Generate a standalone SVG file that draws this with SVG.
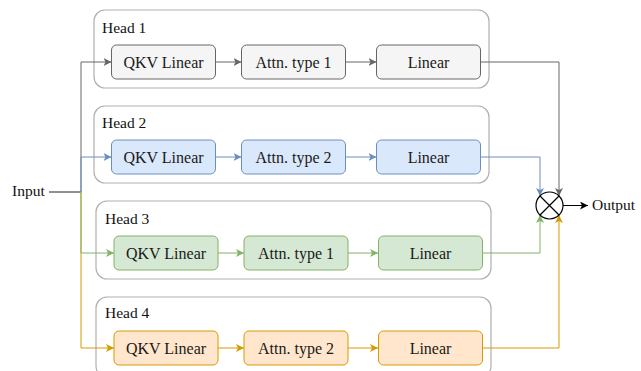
<svg xmlns="http://www.w3.org/2000/svg" width="641" height="371" viewBox="0 0 641 371">
  <style>
    .lbl { font-family: "Liberation Serif", "Times New Roman", serif; font-size: 15.5px; fill: #111; }
    .box-t { font-family: "Liberation Serif", "Times New Roman", serif; font-size: 16px; fill: #1a1a1a; text-anchor: middle; }
    .frame { fill: #ffffff; stroke: #b0b0b0; stroke-width: 1.2; }
    .gray { fill: #f5f5f5; stroke: #666666; }
    .blue { fill: #dae8fc; stroke: #6c8ebf; }
    .green { fill: #d5e8d4; stroke: #82b366; }
    .orange { fill: #ffe6cc; stroke: #d79b00; }
    .e { fill: none; stroke-width: 1; }
    .eg { stroke: #666666; marker-end: url(#ah-gray); }
    .eb { stroke: #6c8ebf; marker-end: url(#ah-blue); }
    .egr { stroke: #82b366; marker-end: url(#ah-green); }
    .eo { stroke: #d79b00; marker-end: url(#ah-orange); }
  </style>
  <defs>
    <marker id="ah-gray" markerUnits="userSpaceOnUse" markerWidth="9" markerHeight="8" refX="8" refY="4" orient="auto">
      <path d="M0,0 L8,4 L0,8 L2,4 Z" fill="#666666"/>
    </marker>
    <marker id="ah-blue" markerUnits="userSpaceOnUse" markerWidth="9" markerHeight="8" refX="8" refY="4" orient="auto">
      <path d="M0,0 L8,4 L0,8 L2,4 Z" fill="#6c8ebf"/>
    </marker>
    <marker id="ah-green" markerUnits="userSpaceOnUse" markerWidth="9" markerHeight="8" refX="8" refY="4" orient="auto">
      <path d="M0,0 L8,4 L0,8 L2,4 Z" fill="#82b366"/>
    </marker>
    <marker id="ah-orange" markerUnits="userSpaceOnUse" markerWidth="9" markerHeight="8" refX="8" refY="4" orient="auto">
      <path d="M0,0 L8,4 L0,8 L2,4 Z" fill="#d79b00"/>
    </marker>
    <marker id="ah-black" markerUnits="userSpaceOnUse" markerWidth="9" markerHeight="8" refX="8" refY="4" orient="auto">
      <path d="M0,0 L8,4 L0,8 L2,4 Z" fill="#000000"/>
    </marker>
  </defs>

  <!-- head frames -->
  <g id="head1">
    <rect class="frame" x="94" y="10" width="395" height="78" rx="11"/>
    <text class="lbl" x="102" y="33">Head 1</text>
  </g>
  <g id="head2">
    <rect class="frame" x="94" y="106" width="395" height="77" rx="11"/>
    <text class="lbl" x="102" y="128">Head 2</text>
  </g>
  <g id="head3">
    <rect class="frame" x="96" y="201" width="395" height="78" rx="11"/>
    <text class="lbl" x="105" y="224">Head 3</text>
  </g>
  <g id="head4">
    <rect class="frame" x="96" y="297" width="395" height="80" rx="11"/>
    <text class="lbl" x="105" y="318">Head 4</text>
  </g>

  <!-- connectors -->
  <g id="connectors">
    <line x1="49" y1="192" x2="81" y2="192" stroke="#222222" stroke-width="1"/>
    <!-- input fan-out -->
    <path class="e eg" d="M81,192 L81,62 L111.5,62"/>
    <path class="e eb" d="M81,192 L81,157 L111.5,157"/>
    <path class="e eo" d="M81,192 L81,348 L114,348"/>
    <path class="e egr" d="M81,192 L81,253 L114,253"/>
    <!-- inside heads -->
    <path class="e eg" d="M215.5,62 L241.5,62"/>
    <path class="e eg" d="M345.5,62 L376.5,62"/>
    <path class="e eb" d="M215.5,157 L241.5,157"/>
    <path class="e eb" d="M345.5,157 L376.5,157"/>
    <path class="e egr" d="M218,253 L244,253"/>
    <path class="e egr" d="M348,253 L378,253"/>
    <path class="e eo" d="M218,348 L244,348"/>
    <path class="e eo" d="M348,348 L378,348"/>
    <!-- into the combiner -->
    <path class="e eg" d="M480.5,62 L559,62 L559,196"/>
    <path class="e eb" d="M480.5,157 L540,157 L540,196"/>
    <path class="e egr" d="M483,253 L540,253 L540,215"/>
    <path class="e eo" d="M483,348 L559,348 L559,215"/>
    <!-- output -->
    <path class="e" stroke="#000000" marker-end="url(#ah-black)" d="M563,205.5 L588,205.5"/>
  </g>

  <!-- blocks -->
  <g id="h1-qkv"><rect class="gray" x="111.5" y="45" width="104" height="34" rx="5"/><text class="box-t" x="163.5" y="67.5">QKV Linear</text></g>
  <g id="h1-attn"><rect class="gray" x="241.5" y="45" width="104" height="34" rx="5"/><text class="box-t" x="293.5" y="67.5">Attn. type 1</text></g>
  <g id="h1-lin"><rect class="gray" x="376.5" y="45" width="104" height="34" rx="5"/><text class="box-t" x="428.5" y="67.5">Linear</text></g>

  <g id="h2-qkv"><rect class="blue" x="111.5" y="140" width="104" height="34" rx="5"/><text class="box-t" x="163.5" y="162.5">QKV Linear</text></g>
  <g id="h2-attn"><rect class="blue" x="241.5" y="140" width="104" height="34" rx="5"/><text class="box-t" x="293.5" y="162.5">Attn. type 2</text></g>
  <g id="h2-lin"><rect class="blue" x="376.5" y="140" width="104" height="34" rx="5"/><text class="box-t" x="428.5" y="162.5">Linear</text></g>

  <g id="h3-qkv"><rect class="green" x="114" y="236" width="104" height="34" rx="5"/><text class="box-t" x="166" y="258.5">QKV Linear</text></g>
  <g id="h3-attn"><rect class="green" x="244" y="236" width="104" height="34" rx="5"/><text class="box-t" x="296" y="258.5">Attn. type 1</text></g>
  <g id="h3-lin"><rect class="green" x="378.5" y="236" width="104" height="34" rx="5"/><text class="box-t" x="430.5" y="258.5">Linear</text></g>

  <g id="h4-qkv"><rect class="orange" x="114" y="331" width="104" height="34" rx="5"/><text class="box-t" x="166" y="353.5">QKV Linear</text></g>
  <g id="h4-attn"><rect class="orange" x="244" y="331" width="104" height="34" rx="5"/><text class="box-t" x="296" y="353.5">Attn. type 2</text></g>
  <g id="h4-lin"><rect class="orange" x="378.5" y="331" width="104" height="34" rx="5"/><text class="box-t" x="430.5" y="353.5">Linear</text></g>

  <g id="input"><text class="lbl" x="12" y="196">Input</text></g>

  <g id="combiner">
    <circle cx="549.5" cy="205.5" r="13.5" fill="#ffffff" stroke="#000000" stroke-width="1.2"/>
    <path d="M540,196 L559,215 M559,196 L540,215" stroke="#000000" stroke-width="1.2" fill="none"/>
  </g>

  <g id="output"><text class="lbl" x="592" y="210">Output</text></g>
</svg>
